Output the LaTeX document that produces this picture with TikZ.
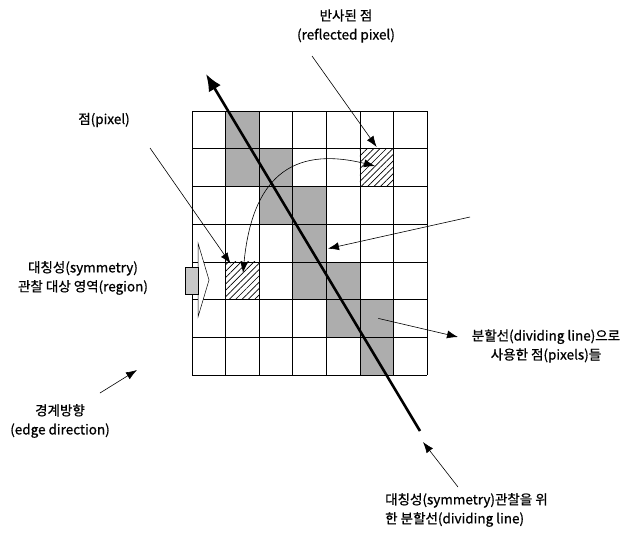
\documentclass[tikz,border=0pt]{standalone}
\usepackage{fontspec}
\usepackage{tikz}
\usetikzlibrary{arrows.meta,patterns.meta}
\newfontfamily\krfont[FakeBold=0.8]{Noto Sans CJK KR}

\begin{document}
\begin{tikzpicture}[x=1pt,y=-1pt,>=Latex,
  note/.style={font=\krfont\fontsize{13.5}{19}\selectfont,align=center,inner sep=0pt},
  ptr/.style={-{Latex[length=11pt,width=8pt]},line width=0.6pt},
  usedcell/.style={fill=black!32},
  mirrorcell/.style={pattern={Lines[angle=45,distance=4.5pt,line width=0.7pt]}}]
\useasboundingbox (0,0) rectangle (626,535);
% pixel grid, 7x7 cells
\begin{scope}[shift={(192,111)},x=33.57pt,y=-37.71pt]
\foreach \c/\r in {1/0,1/1,2/1,2/2,3/2,3/3,3/4,4/4,4/5,5/5,5/6}
  \fill[usedcell] (\c,\r) rectangle ++(1,1);
\foreach \c/\r in {1/4,5/1}
  \fill[mirrorcell] (\c,\r) rectangle ++(1,1);
\foreach \i in {0,...,7} {
  \draw[line width=0.6pt] (\i,0) -- (\i,7);
  \draw[line width=0.6pt] (0,\i) -- (7,\i);
}
\coordinate (pixA) at (1.15,4.05);
\coordinate (pixB) at (5.5,1.5);
\coordinate (used) at (5.55,5.5);
\coordinate (usedB) at (4.05,3.65);
\end{scope}
% region arrow
\draw[line width=0.5pt,fill=white] (198,243) -- (209,280) -- (198,317) -- cycle;
\draw[line width=0.5pt,fill=black!22] (185,267) rectangle (198,294);
% dividing line
\coordinate (dtop) at (206,74);
\coordinate (dbot) at (420,431);
\draw[line width=2.6pt,{Latex[length=17pt,width=14pt]}-] (dtop) -- (dbot);
% labels
\node[note] (refl) at (346,26) {반사된 점\\(reflected pixel)};
\node[note] (pix) at (104,120) {점(pixel)};
\node[note] (region) at (83,278) {대칭성(symmetry)\\관찰 대상 영역(region)};
\node[note] (edge) at (60,421) {경계방향\\(edge direction)};
\node[note] (divpix) at (546,346) {분할선(dividing line)으로\\사용한 점(pixels)들};
\node[note,align=left,anchor=west] (divline) at (385,510) {대칭성(symmetry)관찰을 위\\한 분할선(dividing line)};
% pointers
\coordinate (reflS) at (312,56);
\coordinate (pixS) at (150,148);
\coordinate (rightS) at (470,217);
\coordinate (edgeS) at (100,393);
\coordinate (edgeE) at (137,370);
\coordinate (divpixE) at (458,337);
\coordinate (divlineS) at (458,487);
\coordinate (divlineE) at (423,442);
\draw[ptr] (reflS) -- (pixB |- 0,147);
\draw[ptr] (pixS) -- (pixA);
\draw[ptr,{Latex[length=11pt,width=8pt]}-{Latex[length=11pt,width=8pt]}] (243,273) .. controls (252,180) and (290,145) .. (375,166);
\draw[ptr] (rightS) -- (usedB);
\draw[ptr] (used) -- (divpixE);
\draw[ptr] (edgeS) -- (edgeE);
\draw[ptr] (divlineS) -- (divlineE);
\end{tikzpicture}
\end{document}
